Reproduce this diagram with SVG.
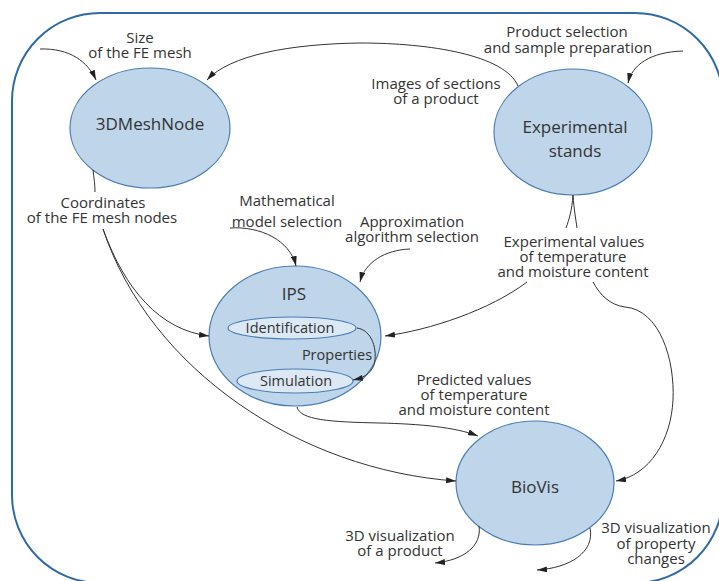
<svg xmlns="http://www.w3.org/2000/svg" width="719" height="581" viewBox="0 0 719 581">
<defs>
<marker id="ah" viewBox="0 0 10 6" refX="10" refY="3" markerWidth="10" markerHeight="6" markerUnits="userSpaceOnUse" orient="auto">
<path d="M0,0 L10,3 L0,6 Z" fill="#222"/>
</marker>
</defs>
<style>
.node{fill:#bed5ea;stroke:#4a7db3;stroke-width:1.2}
.inner{fill:#dce8f4;stroke:#4a7db3;stroke-width:1.2}
.nl{font-family:"Open Sans","Noto Sans",sans-serif;font-size:17px;fill:#333;text-anchor:middle}
.il{font-family:"Open Sans","Noto Sans",sans-serif;font-size:14.5px;fill:#333;text-anchor:middle}
.lb{font-family:"Open Sans","Noto Sans",sans-serif;font-size:15px;fill:#333;text-anchor:middle}
.c{fill:none;stroke:#333;stroke-width:1}
.ca{fill:none;stroke:#333;stroke-width:1;marker-end:url(#ah)}
</style>
<rect width="719" height="581" fill="#fff"/>
<rect x="12" y="13" width="711" height="570" rx="88" ry="88" fill="none" stroke="#2f6aa3" stroke-width="2"/>

<g id="mesh">
<ellipse class="node" cx="150" cy="128" rx="80" ry="60"/>
<text class="nl" x="150" y="130">3DMeshNode</text>
</g>
<g id="stands">
<ellipse class="node" cx="573" cy="132" rx="79" ry="63"/>
<text class="nl" x="575" y="133">Experimental</text>
<text class="nl" x="575" y="157">stands</text>
</g>
<g id="ips">
<ellipse class="node" cx="295" cy="336" rx="86" ry="70"/>
<text class="nl" x="294" y="300">IPS</text>
<g id="identification">
<ellipse class="inner" cx="292" cy="328" rx="64" ry="11"/>
<text class="il" x="290" y="333">Identification</text>
</g>
<g id="simulation">
<ellipse class="inner" cx="295" cy="381" rx="58" ry="12"/>
<text class="il" x="296" y="386">Simulation</text>
</g>
<text class="il" x="337" y="360">Properties</text>
</g>
<g id="biovis">
<ellipse class="node" cx="535" cy="483" rx="79" ry="62"/>
<text class="nl" x="535" y="493">BioVis</text>
</g>

<g id="connectors">
<path class="ca" d="M40,49 C70,48 88,62 96,80"/>
<path class="ca" d="M518,86 C505,55 430,43 360,43 C290,44 230,55 207,80"/>
<path class="ca" d="M683,51 C650,52 632,65 628,83"/>
<path class="c" d="M573,195 C572,210 569,220 566,228"/>
<path class="c" d="M573,195 C574,210 576,220 577,228"/>
<path class="ca" d="M527,282 C490,310 430,330 385,336"/>
<path class="ca" d="M593,282 C600,295 610,305 625,307 C660,310 675,360 673,400 C671,440 650,475 616,481"/>
<path class="ca" d="M230,228 C260,226 290,240 296,266"/>
<path class="ca" d="M410,249 C385,250 365,262 360,282"/>
<path class="c" d="M93,170 C94,178 95,185 95,192"/>
<path class="ca" d="M103,229 C125,290 160,330 209,336"/>
<path class="ca" d="M103,229 C150,370 300,470 456,481"/>
<path class="ca" d="M297,407 C300,420 330,422 380,423 C420,424 455,427 478,436"/>
<path class="ca" d="M357,328 C372,330 378,350 374,365 C370,375 362,378 353,380"/>
<path class="ca" d="M479,526 C482,545 465,560 435,563"/>
<path class="ca" d="M590,528 C595,552 570,568 537,570"/>
</g>

<g id="labels">
<text class="lb" x="140" y="43">Size</text>
<text class="lb" x="140" y="58">of the FE mesh</text>
<text class="lb" x="567" y="37">Product selection</text>
<text class="lb" x="568" y="53">and sample preparation</text>
<text class="lb" x="436" y="89">Images of sections</text>
<text class="lb" x="436" y="104">of a product</text>
<text class="lb" x="103" y="208">Coordinates</text>
<text class="lb" x="102" y="223">of the FE mesh nodes</text>
<text class="lb" x="287" y="206">Mathematical</text>
<text class="lb" x="287" y="227">model selection</text>
<text class="lb" x="412" y="227">Approximation</text>
<text class="lb" x="412" y="242">algorithm selection</text>
<text class="lb" x="574" y="247">Experimental values</text>
<text class="lb" x="573" y="262">of temperature</text>
<text class="lb" x="573" y="277">and moisture content</text>
<text class="lb" x="474" y="385">Predicted values</text>
<text class="lb" x="474" y="400">of temperature</text>
<text class="lb" x="474" y="415">and moisture content</text>
<text class="lb" x="400" y="541">3D visualization</text>
<text class="lb" x="400" y="556">of a product</text>
<text class="lb" x="656" y="533">3D visualization</text>
<text class="lb" x="656" y="549">of property</text>
<text class="lb" x="656" y="564">changes</text>
</g>
</svg>
